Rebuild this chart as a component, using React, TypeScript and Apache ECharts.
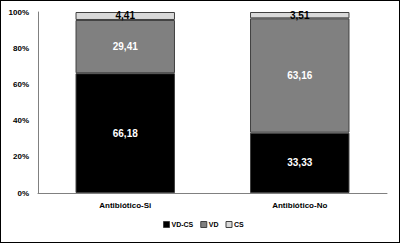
import React, { useEffect, useRef } from "react";
import * as echarts from "echarts";

const categories = ["Antibiótico-Si", "Antibiótico-No"];
const vdcs = [66.18, 33.33];
const vd = [29.41, 63.16];
const cs = [4.41, 3.51];
const seriesNames = ["VD-CS", "VD", "CS"];
const yTicks = [0, 20, 40, 60, 80, 100];

const FONT = "Liberation Sans, Arial, sans-serif";

export default function App() {
  const ref = useRef<HTMLDivElement>(null);
  useEffect(() => {
    const chart = echarts.init(ref.current!, null, { renderer: "svg" });
    const fmt = (p: any) => Number(p.value).toFixed(2).replace(".", ",");
    const mk = (name: string, data: number[], color: string, labelColor: string) => ({
      name,
      type: "bar",
      stack: "total",
      data,
      barWidth: "57%",
      itemStyle: { color, borderColor: "#404040", borderWidth: 1 },
      label: {
        show: true,
        position: "inside",
        formatter: fmt,
        color: labelColor,
        fontFamily: FONT,
        fontWeight: "bold",
        fontSize: 10,
      },
    });
    chart.setOption({
      animation: false,
      backgroundColor: "#fff",
      grid: { left: 38, right: 13, top: 12, bottom: 50, containLabel: false },
      legend: {
        bottom: 10,
        left: 158,
        itemWidth: 6,
        itemHeight: 6,
        itemGap: 7,
        icon: "rect",
        textStyle: { fontFamily: FONT, fontWeight: "bold", fontSize: 7, color: "#000", padding: [0, 0, 0, -3] },
        data: seriesNames.map((n) => ({
          name: n,
          itemStyle: { borderColor: "#404040", borderWidth: 1 },
        })),
      },
      xAxis: {
        type: "category",
        data: categories,
        axisLine: { lineStyle: { color: "#808080", width: 1 } },
        axisTick: { show: false },
        axisLabel: { fontFamily: FONT, fontWeight: "bold", fontSize: 8, color: "#000", margin: 8 },
      },
      yAxis: {
        type: "value",
        min: 0,
        max: 100,
        interval: 20,
        axisLine: { show: true, lineStyle: { color: "#808080", width: 1 } },
        axisTick: { show: false },
        splitLine: { show: false },
        axisLabel: {
          fontFamily: FONT,
          fontWeight: "bold",
          fontSize: 8,
          color: "#000",
          margin: 9,
          formatter: (v: number) => (yTicks.includes(v) ? v + "%" : ""),
        },
      },
      series: [
        mk(seriesNames[0], vdcs, "#000000", "#ffffff"),
        mk(seriesNames[1], vd, "#808080", "#ffffff"),
        mk(seriesNames[2], cs, "#d9d9d9", "#000000"),
      ],
    });
    return () => chart.dispose();
  }, []);
  return (
    <div style={{ position: "fixed", left: 0, top: 0, width: 400, height: 243, background: "#fff" }}>
      <div ref={ref} style={{ position: "absolute", left: 0, top: 0, width: 400, height: 243 }} />
      <div
        style={{
          position: "absolute",
          left: 0,
          top: 0,
          width: 400,
          height: 243,
          boxSizing: "border-box",
          border: "1px solid #000",
          pointerEvents: "none",
        }}
      />
    </div>
  );
}
